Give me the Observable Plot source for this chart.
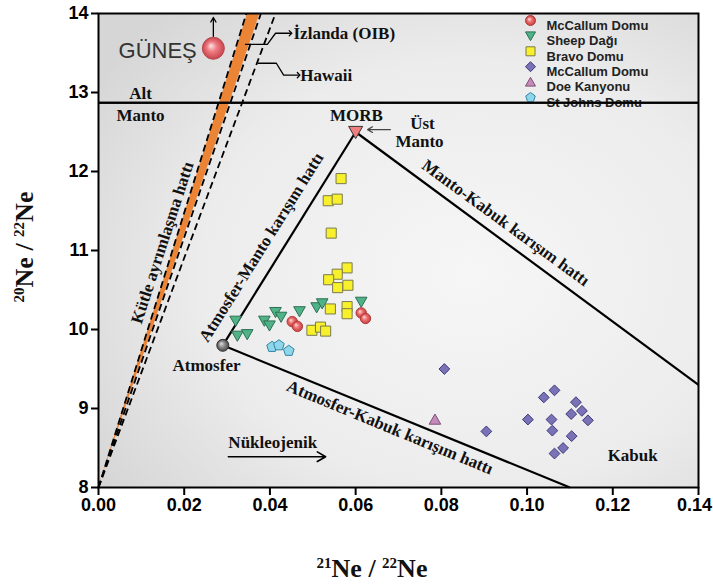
<!DOCTYPE html>
<html><head><meta charset="utf-8">
<script src="https://cdn.jsdelivr.net/npm/d3@7"></script>
<script src="https://cdn.jsdelivr.net/npm/@observablehq/plot@0.6"></script>
<style>
body{margin:0;background:#fff;}
#chart svg g[aria-label="x-axis tick"], #chart svg g[aria-label="y-axis tick"]{stroke-width:2;}
</style>
</head><body><div id="chart"></div>
<script>
// ---------- data (21Ne/22Ne, 20Ne/22Ne) ----------
const xTicks = [0, 0.02, 0.04, 0.06, 0.08, 0.10, 0.12, 0.14];
const yTicks = [8, 9, 10, 11, 12, 13, 14];

const mccallumA = [[0.0452,10.10],[0.0464,10.04],[0.0613,10.21],[0.0623,10.14]];
const sheepDagi = [[0.0320,10.11],[0.0324,9.92],[0.0347,9.94],[0.0387,10.11],[0.0399,10.05],
  [0.0413,10.22],[0.0426,10.16],[0.0469,10.23],[0.0509,10.28],[0.0522,10.33],[0.0613,10.35]];
const bravo = [[0.0566,11.91],[0.0536,11.63],[0.0557,11.65],[0.0543,11.22],[0.0580,10.78],
  [0.0557,10.70],[0.0537,10.63],[0.0558,10.53],[0.0582,10.56],[0.0541,10.26],[0.0580,10.29],
  [0.0580,10.20],[0.0498,9.99],[0.0518,10.03],[0.0530,9.98]];
const mccallumB = [[0.0807,9.50],[0.0905,8.71],[0.1002,8.86],[0.1039,9.14],[0.1064,9.23],
  [0.1057,8.86],[0.1059,8.72],[0.1114,9.08],[0.1103,8.93],[0.1128,8.97],[0.1142,8.85],
  [0.1104,8.65],[0.1084,8.50],[0.1064,8.43]];
const doeKanyonu = [[0.0785,8.86]];
const stJohns = [[0.0405,9.78],[0.0421,9.80],[0.0444,9.73]];

const seriesNames = ["McCallum Domu","Sheep Dağı","Bravo Domu","McCallum Domu","Doe Kanyonu","St Johns Domu"];

const atmosphere = [0.029, 9.8];
const morb = [0.06, 12.5];
const sun = [0.0268, 13.56];
const crustEnd = [0.11, 8];
const mantleCrustEnd = [0.14, 9.3];
const lowerMantleY = 12.87;
const fracTops = [0.0345, 0.0379, 0.0413];
const orangeBand = [{y:8, x1:0, x2:0}, {y:14, x1:0.0348, x2:0.0377}];

const lineLabels = [
  {text:"Kütle ayrımlaşma hattı", x:0.0149, y:11.10, rotate:-72},
  {text:"Atmosfer-Manto karışım hattı", x:0.0380, y:11.04, rotate:-58},
  {text:"Manto-Kabuk karışım hattı", x:0.0950, y:11.35, rotate:36},
  {text:"Atmosfer-Kabuk karışım hattı", x:0.0680, y:8.76, rotate:22.4}
];
const labels = [
  {text:"Alt", x:0.0098, y:12.99, anchor:"middle"},
  {text:"Manto", x:0.0098, y:12.71, anchor:"middle"},
  {text:"MORB", x:0.0602, y:12.71, anchor:"middle"},
  {text:"Üst", x:0.0756, y:12.61, anchor:"middle"},
  {text:"Manto", x:0.0749, y:12.38, anchor:"middle"},
  {text:"Atmosfer", x:0.0252, y:9.54, anchor:"middle"},
  {text:"Kabuk", x:0.1188, y:8.40, anchor:"start"},
  {text:"Nükleojenik", x:0.0303, y:8.57, anchor:"start"},
  {text:"İzlanda (OIB)", x:0.0455, y:13.75, anchor:"start"},
  {text:"Hawaii", x:0.0471, y:13.22, anchor:"start"}
];
const connIzlanda = [[0.0343,13.61],[0.0394,13.61],[0.0413,13.75],[0.0448,13.75]];
const connHawaii = [[0.0373,13.37],[0.0415,13.37],[0.0432,13.22],[0.0467,13.22]];

// ---------- symbols ----------
function poly(pts){
  return {draw(ctx, size){
    const r = Math.sqrt(size/Math.PI);
    ctx.moveTo(pts[0][0]*r, pts[0][1]*r);
    for (let i=1;i<pts.length;i++) ctx.lineTo(pts[i][0]*r, pts[i][1]*r);
    ctx.closePath();
  }};
}
const symInvTri = poly([[-1,-0.8],[1,-0.8],[0,0.95]]);
const symUpTri = poly([[0,-0.95],[1,0.8],[-1,0.8]]);
const symSquare = poly([[-0.9,-0.9],[0.9,-0.9],[0.9,0.9],[-0.9,0.9]]);
const symDiamond = poly([[0,-1],[1,0],[0,1],[-1,0]]);
const symPent = poly(d3.range(5).map(k => {const a = (-90+72*k)*Math.PI/180; return [Math.cos(a), Math.sin(a)];}));

const styles = [
  {data: mccallumA, symbol:"circle", fill:"url(#gRed)", stroke:"#b23a3a", r:5.2},
  {data: sheepDagi, symbol:symInvTri, fill:"#4fb387", stroke:"#2c6f52", r:5.8},
  {data: bravo, symbol:symSquare, fill:"#f7f02a", stroke:"#7a7a50", r:5.6},
  {data: mccallumB, symbol:symDiamond, fill:"#7a72b6", stroke:"#3f3a78", r:5.4},
  {data: doeKanyonu, symbol:symUpTri, fill:"#c58bbb", stroke:"#7d4f75", r:5.8},
  {data: stJohns, symbol:symPent, fill:"#8fd6ea", stroke:"#2f86a6", r:5.6}
];

const serif = "Liberation Serif, Times New Roman, serif";
const sans = "Liberation Sans, Arial, sans-serif";

const marks = [
  Plot.frame({fill:"url(#bgGrad)"}),
  Plot.areaX(orangeBand, {y:"y", x1:"x1", x2:"x2", fill:"#ec8436"}),
  Plot.link(fracTops, {x1:0, y1:8, x2:d=>d, y2:14, stroke:"black", strokeWidth:1.8, strokeDasharray:"7,4"}),
  Plot.ruleY([lowerMantleY], {stroke:"black", strokeWidth:2}),
  Plot.link([[atmosphere, morb],[morb, mantleCrustEnd],[atmosphere, crustEnd]],
    {x1:d=>d[0][0], y1:d=>d[0][1], x2:d=>d[1][0], y2:d=>d[1][1], stroke:"black", strokeWidth:2.2}),
  Plot.line(connIzlanda, {x:d=>d[0], y:d=>d[1], stroke:"black", strokeWidth:1.3, markerEnd:"arrow"}),
  Plot.line(connHawaii, {x:d=>d[0], y:d=>d[1], stroke:"black", strokeWidth:1.3, markerEnd:"arrow"}),
  Plot.arrow([0], {x1:0.0303, y1:8.39, x2:0.053, y2:8.39, stroke:"black", strokeWidth:1.6, headLength:9}),
  Plot.arrow([0], {x1:sun[0], y1:13.71, x2:sun[0], y2:13.95, stroke:"black", strokeWidth:1.3, headLength:6}),
  Plot.arrow([0], {x1:0.0681, y1:12.53, x2:0.0628, y2:12.53, stroke:"#444", strokeWidth:1.2, headLength:7}),
  Plot.text(["GÜNEŞ"], {x:0.0138, y:13.53, text:d=>d, fontFamily:sans, fontSize:22, fontWeight:"normal", fill:"#333"}),
  Plot.dot([sun], {x:d=>d[0], y:d=>d[1], r:11, fill:"url(#gSun)", stroke:"#b84a52", strokeWidth:1}),
  Plot.dot([atmosphere], {x:d=>d[0], y:d=>d[1], r:6, fill:"url(#gGray)", stroke:"#333", strokeWidth:1}),
  Plot.dot([morb], {x:d=>d[0], y:d=>d[1], r:7, symbol:symInvTri, fill:"#f07e7e", stroke:"#333", strokeWidth:1}),
  ...styles.map(s => Plot.dot(s.data, {x:d=>d[0], y:d=>d[1], symbol:s.symbol, fill:s.fill, stroke:s.stroke, r:s.r, strokeWidth:1})),
  Plot.text(lineLabels, {x:"x", y:"y", text:"text", rotate:"rotate", fontFamily:serif, fontSize:17, fontWeight:"bold", fill:"#111"}),
  Plot.text(labels, {x:"x", y:"y", text:"text", textAnchor:"start", filter:d=>d.anchor==="start", fontFamily:serif, fontSize:17, fontWeight:"bold", fill:"#111"}),
  Plot.text(labels, {x:"x", y:"y", text:"text", filter:d=>d.anchor==="middle", fontFamily:serif, fontSize:17, fontWeight:"bold", fill:"#111"}),
  // legend
  ...styles.map((s,i) => Plot.dot([0], {frameAnchor:"top-left", dx:432, dy:7+15.4*i, symbol:s.symbol, fill:s.fill, stroke:s.stroke, r:5, strokeWidth:1})),
  ...seriesNames.map((n,i) => Plot.text([n], {frameAnchor:"top-left", dx:448, dy:7+15.4*i, text:d=>d, textAnchor:"start", fontFamily:sans, fontSize:13, fontWeight:"bold", fill:"#222"})),
  Plot.ruleY([lowerMantleY], {stroke:"black", strokeWidth:2}),
  Plot.frame({stroke:"black", strokeWidth:2})
];

const chart = Plot.plot({
  width: 713, height: 587,
  marginLeft: 98, marginRight: 15, marginTop: 13, marginBottom: 100,
  x: {domain:[0,0.14], ticks:xTicks, tickFormat:d=>d.toFixed(2), tickSize:8, tickPadding:3, label:null},
  y: {domain:[8,14], ticks:yTicks, tickFormat:d=>String(d), tickSize:7, tickPadding:3, label:null},
  style: {fontFamily: sans, fontSize:"18px", fontWeight:"bold", background:"white", color:"black"},
  marks
});

const svg = d3.select(chart);
const defs = svg.insert("defs", ":first-child");
function radial(id, stops, cx="50%", cy="50%", fx, fy, r="50%"){
  const g = defs.append("radialGradient").attr("id", id).attr("cx", cx).attr("cy", cy).attr("r", r);
  if (fx) g.attr("fx", fx).attr("fy", fy);
  stops.forEach(([o,c]) => g.append("stop").attr("offset", o).attr("stop-color", c));
}
radial("bgGrad", [["0%","#f6f6f6"],["60%","#ececec"],["100%","#d6d6d6"]], "62%", "55%", null, null, "75%");
radial("gRed", [["0%","#fde0e0"],["45%","#ef7474"],["100%","#c53e3e"]], "50%", "50%", "35%", "35%");
radial("gSun", [["0%","#fde6e6"],["45%","#ee7c82"],["100%","#c8444c"]], "50%", "50%", "38%", "38%");
radial("gGray", [["0%","#e0e0e0"],["50%","#8a8a8a"],["100%","#4a4a4a"]], "50%", "50%", "35%", "35%");

// keep the last x tick label inside the picture
const xLabels = svg.selectAll('g[aria-label="x-axis tick label"] text').nodes();
if (xLabels.length) d3.select(xLabels[xLabels.length-1]).attr("dx", -4);

// axis titles with superscripts
const yl = svg.append("text").attr("transform", "translate(33,247) rotate(-90)")
  .attr("text-anchor","middle").attr("font-family", serif).attr("font-weight","bold").attr("font-size",26).attr("fill","#111");
yl.append("tspan").attr("font-size",15).attr("dy",-9).text("20");
yl.append("tspan").attr("dy",9).text("Ne / ");
yl.append("tspan").attr("font-size",15).attr("dy",-9).text("22");
yl.append("tspan").attr("dy",9).text("Ne");

const xl = svg.append("text").attr("x", 372).attr("y", 577)
  .attr("text-anchor","middle").attr("font-family", serif).attr("font-weight","bold").attr("font-size",26).attr("fill","#111");
xl.append("tspan").attr("font-size",15).attr("dy",-9).text("21");
xl.append("tspan").attr("dy",9).text("Ne / ");
xl.append("tspan").attr("font-size",15).attr("dy",-9).text("22");
xl.append("tspan").attr("dy",9).text("Ne");

document.getElementById("chart").appendChild(chart);
</script>
</body></html>
